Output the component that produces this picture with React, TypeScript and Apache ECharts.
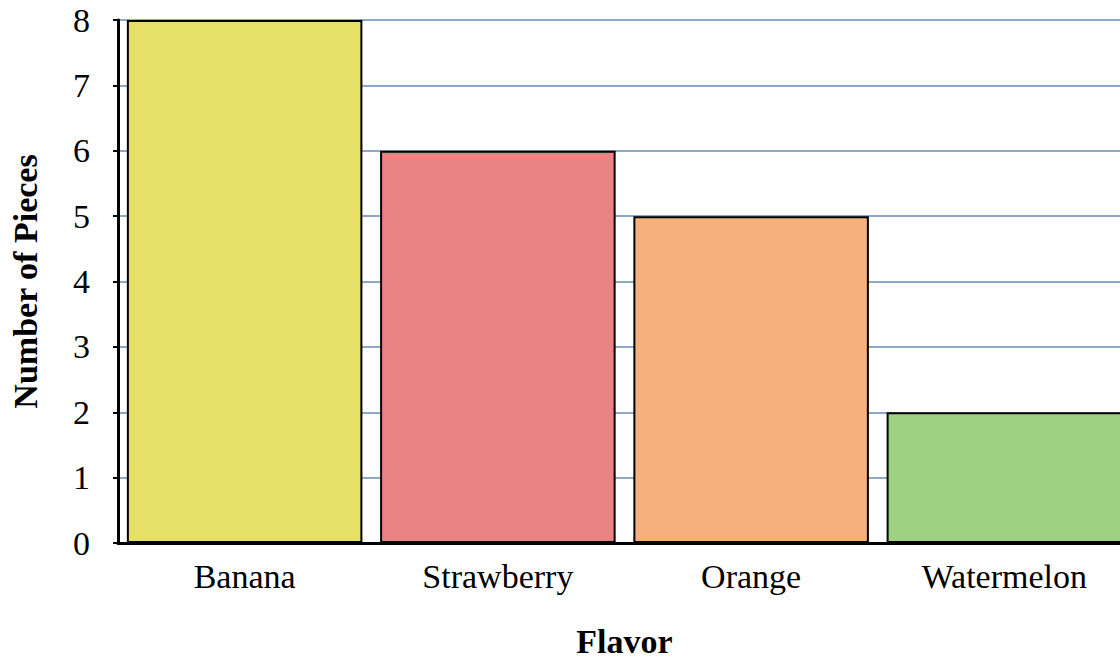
import React, { useEffect, useRef } from "react";
import * as echarts from "echarts";

const categories = ["Banana", "Strawberry", "Orange", "Watermelon"];
const pieces = [8, 6, 5, 2];
const barColors = ["#E6DF68", "#EA8383", "#F5B07E", "#9DD283"];
const yTicks = { min: 0, max: 8, interval: 1 };

export default function App() {
  const ref = useRef<HTMLDivElement>(null);
  useEffect(() => {
    if (!ref.current) return;
    const chart = echarts.init(ref.current, null, { renderer: "svg" });
    const font = "'Liberation Serif', 'Times New Roman', serif";
    chart.setOption({
      animation: false,
      grid: { left: 115, right: 10, top: 20, bottom: 118, containLabel: false },
      xAxis: {
        type: "category",
        data: categories,
        name: "Flavor",
        nameLocation: "middle",
        nameGap: 81,
        nameTextStyle: { fontFamily: font, fontSize: 34, fontWeight: "bold", color: "#000" },
        axisLine: { lineStyle: { color: "#000", width: 3 } },
        axisTick: { show: false },
        axisLabel: { fontFamily: font, fontSize: 34, color: "#000", margin: 16 },
      },
      yAxis: {
        type: "value",
        min: yTicks.min,
        max: yTicks.max,
        interval: yTicks.interval,
        name: "Number of Pieces",
        nameLocation: "middle",
        nameGap: 76,
        nameTextStyle: { fontFamily: font, fontSize: 34, fontWeight: "bold", color: "#000" },
        axisLine: { show: true, lineStyle: { color: "#000", width: 3 } },
        axisTick: { show: true, length: 5, lineStyle: { color: "#000", width: 2 } },
        axisLabel: { fontFamily: font, fontSize: 34, color: "#000", margin: 28 },
        splitLine: { show: true, lineStyle: { color: "#8EA9C5", width: 2 } },
      },
      series: [
        {
          type: "bar",
          data: pieces.map((v, i) => ({ value: v, itemStyle: { color: barColors[i] } })),
          barCategoryGap: "7%",
          itemStyle: { borderColor: "#000", borderWidth: 2 },
        },
      ],
    });
    return () => chart.dispose();
  }, []);
  return (
    <div style={{ position: "fixed", left: 0, top: 0, width: 1120, height: 663, overflow: "hidden", background: "#fff" }}>
      <div ref={ref} style={{ width: 1141, height: 663 }} />
    </div>
  );
}
